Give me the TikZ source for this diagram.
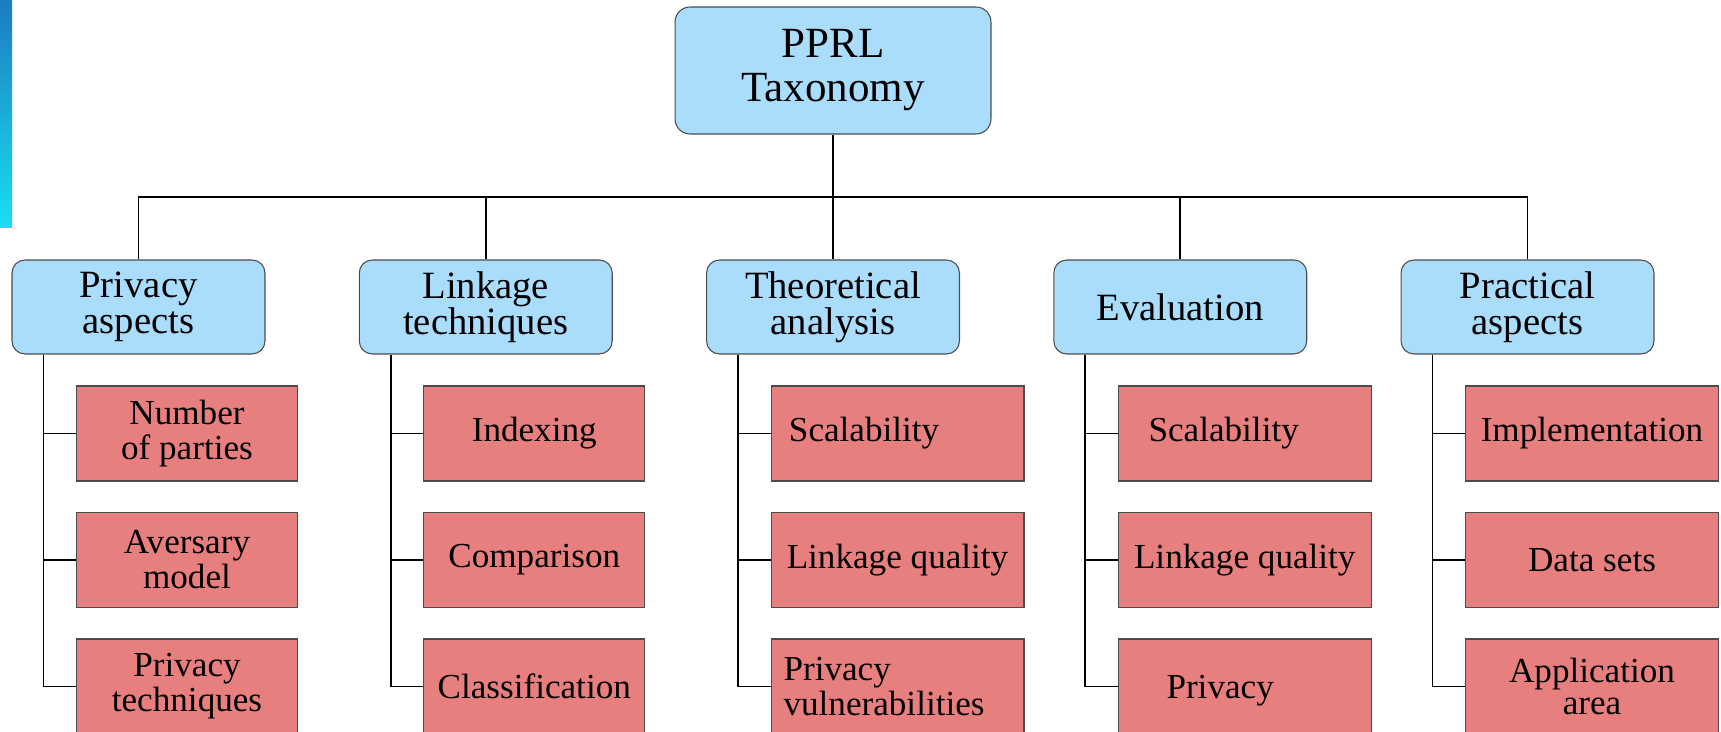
\documentclass[tikz,border=0pt]{standalone}
\usepackage{fontspec}
\setmainfont{Liberation Serif}
\usetikzlibrary{positioning}
\usepackage{xcolor}

\definecolor{catblue}{RGB}{170,221,252}
\definecolor{leafred}{RGB}{231,127,126}
\definecolor{bartop}{RGB}{28,124,192}
\definecolor{barbottom}{RGB}{26,222,242}

\begin{document}
\begin{tikzpicture}[x=0.02cm, y={(0,-0.02cm)},
        every node/.style={inner sep=0pt, align=center},
        rootbox/.style={draw=black!70, line width=0.6pt, fill=catblue, rounded corners=0.3cm,
            minimum width=6.32cm, minimum height=2.54cm, font=\fontsize{24.5}{25}\selectfont},
        catbox/.style={draw=black!70, line width=0.6pt, fill=catblue, rounded corners=0.26cm,
            minimum width=5.06cm, minimum height=1.88cm, font=\fontsize{22}{20.5}\selectfont},
        leafbox/.style={draw=black!70, line width=0.6pt, fill=leafred, anchor=west,
            minimum width=5.06cm, minimum height=1.9cm, font=\fontsize{20}{20}\selectfont},
        narrow/.style={minimum width=4.42cm},
        link/.style={line width=1.1pt}]
            \useasboundingbox (0,0) rectangle (1721,732);
            \shade[top color=bartop, bottom color=barbottom] (0,0) rectangle (12,228);

            % root and main categories
            \node[rootbox] (root) at (833,70.5) {PPRL\\Taxonomy};
            \coordinate (bus) at (833,197);
            \node[catbox] (pa) at (138.5,307) {Privacy\\aspects};
            \node[catbox] (lt) at (485.75,307) {Linkage\\techniques};
            \node[catbox] (ta) at (833,307) {Theoretical\\analysis};
            \node[catbox] (ev) at (1180.25,307) {Evaluation};
            \node[catbox] (pr) at (1527.5,307) {Practical\\aspects};

            % sub-categories
            \node[leafbox, narrow] (pa1) at (76,433.5) {Number\\of parties};
            \node[leafbox, narrow] (pa2) at (76,560) {Aversary\\model};
            \node[leafbox, narrow] (pa3) at (76,686.5) {Privacy\\techniques};

            \node[leafbox, narrow] (lt1) at (423.25,433.5) {Indexing};
            \node[leafbox, narrow] (lt2) at (423.25,560) {Comparison};
            \node[leafbox, narrow] (lt3) at (423.25,686.5) {Classification};

            \node[leafbox] (ta1) at (770.5,433.5) {\hspace{-38pt}Scalability};
            \node[leafbox] (ta2) at (770.5,560) {Linkage quality};
            \node[leafbox, text width=4.56cm, align=left] (ta3) at (770.5,686.5) {Privacy\\vulnerabilities};

            \node[leafbox] (ev1) at (1117.75,433.5) {\hspace{-24pt}Scalability};
            \node[leafbox] (ev2) at (1117.75,560) {Linkage quality};
            \node[leafbox] (ev3) at (1117.75,686.5) {\hspace{-28pt}\raisebox{-2.5pt}[\height][\depth]{Privacy}};

            \node[leafbox] (pr1) at (1465,433.5) {Implementation};
            \node[leafbox] (pr2) at (1465,560) {Data sets};
            \node[leafbox, font=\fontsize{20}{18}\selectfont] (pr3) at (1465,686.5) {Application\\area};

            % connectors
            \draw[link] (root) -- (bus);
            \foreach \cat in {pa,lt,ta,ev,pr}
            {
                \draw[link] (bus) -| (\cat.north);
                \foreach \i in {1,2,3} {
                    \draw[link] (\cat.south west) ++(32,0) |- (\cat\i.west);
                }
            }
        \end{tikzpicture}
\end{document}
